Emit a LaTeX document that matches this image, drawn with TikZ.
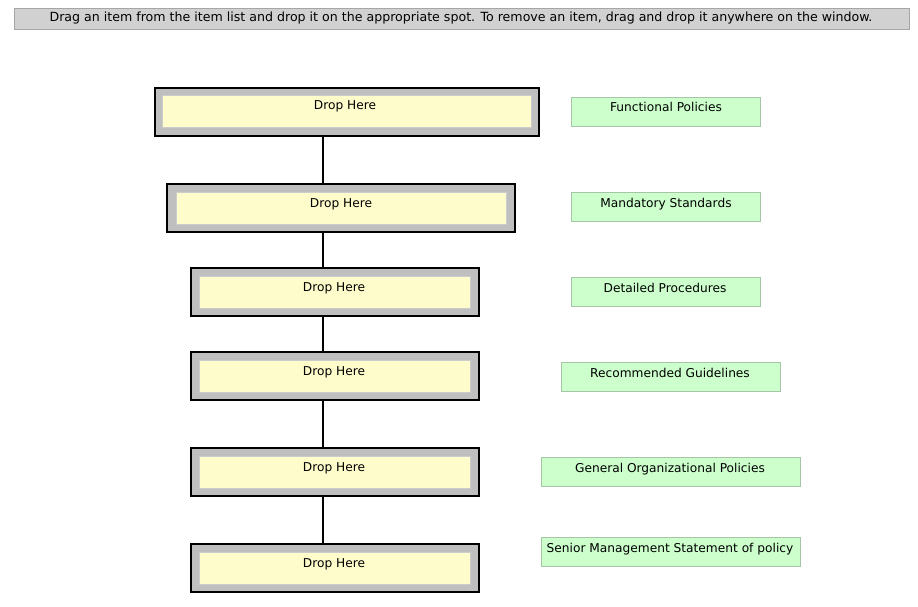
\documentclass[tikz,border=0pt]{standalone}
\usepackage{fontspec}
\setmainfont{DejaVu Sans}
\begin{document}
\begin{tikzpicture}[x=1pt,y=-1pt,
  every node/.style={font=\fontsize{12.2}{14}\selectfont},
  banner/.style={draw=black!35,fill=black!18,line width=0.8pt},
  dropframe/.style={draw=black,fill=black!25,line width=2pt},
  dropinner/.style={draw=black!20,fill=yellow!20,line width=0.6pt},
  choice/.style={draw=green!35!black!35,fill=green!20,line width=0.7pt},
  lbl/.style={anchor=base,inner sep=0pt},
  link/.style={draw=black,line width=1.6pt}]
\useasboundingbox (0,0) rectangle (918,607);
\fill[white] (0,0) rectangle (918,607);
% banner
\path[banner] (14,8) rectangle (909,29);
\node[lbl,font=\fontsize{12.6}{14}\selectfont] (bannertext) at (461,22) {Drag an item from the item list and drop it on the appropriate spot. To remove an item, drag and drop it anywhere on the window.};
% drop boxes
\path[dropframe] (155,88) rectangle (539,136);
\path[dropinner] (162,95) rectangle (531,127);
\node[inner sep=0pt,minimum width=384pt,minimum height=48pt] (b1) at (347,112) {};
\node[lbl] (t1) at (345,110) {Drop Here};

\path[dropframe] (167,184) rectangle (515,232);
\path[dropinner] (176,192) rectangle (506,224);
\node[inner sep=0pt,minimum width=348pt,minimum height=48pt] (b2) at (341,208) {};
\node[lbl] (t2) at (341,207) {Drop Here};

\path[dropframe] (191,268) rectangle (479,316);
\path[dropinner] (199,276) rectangle (470,308);
\node[inner sep=0pt,minimum width=288pt,minimum height=48pt] (b3) at (335,292) {};
\node[lbl] (t3) at (334,291) {Drop Here};

\path[dropframe] (191,352) rectangle (479,400);
\path[dropinner] (199,360) rectangle (470,392);
\node[inner sep=0pt,minimum width=288pt,minimum height=48pt] (b4) at (335,376) {};
\node[lbl] (t4) at (334,375) {Drop Here};

\path[dropframe] (191,448) rectangle (479,496);
\path[dropinner] (199,456) rectangle (470,488);
\node[inner sep=0pt,minimum width=288pt,minimum height=48pt] (b5) at (335,472) {};
\node[lbl] (t5) at (334,471) {Drop Here};

\path[dropframe] (191,544) rectangle (479,592);
\path[dropinner] (199,552) rectangle (470,584);
\node[inner sep=0pt,minimum width=288pt,minimum height=48pt] (b6) at (335,568) {};
\node[lbl] (t6) at (334,567) {Drop Here};

% connectors
\coordinate (spine) at (323,0);
\draw[link] (b1.south -| spine) -- (b2.north -| spine);
\draw[link] (b2.south -| spine) -- (b3.north -| spine);
\draw[link] (b3.south -| spine) -- (b4.north -| spine);
\draw[link] (b4.south -| spine) -- (b5.north -| spine);
\draw[link] (b5.south -| spine) -- (b6.north -| spine);

% choices
\path[choice] (571,97) rectangle (760,126);
\node[lbl] (g1) at (666,112) {Functional Policies};
\path[choice] (571,192) rectangle (760,221);
\node[lbl] (g2) at (666,207) {Mandatory Standards};
\path[choice] (571,277) rectangle (760,306);
\node[lbl] (g3) at (665,292) {Detailed Procedures};
\path[choice] (561,362) rectangle (780,391);
\node[lbl] (g4) at (670,377) {Recommended Guidelines};
\path[choice] (541,457) rectangle (800,486);
\node[lbl] (g5) at (670,472) {General Organizational Policies};
\path[choice] (541,537) rectangle (800,566);
\node[lbl] (g6) at (670,552) {Senior Management Statement of policy};
\end{tikzpicture}
\end{document}
